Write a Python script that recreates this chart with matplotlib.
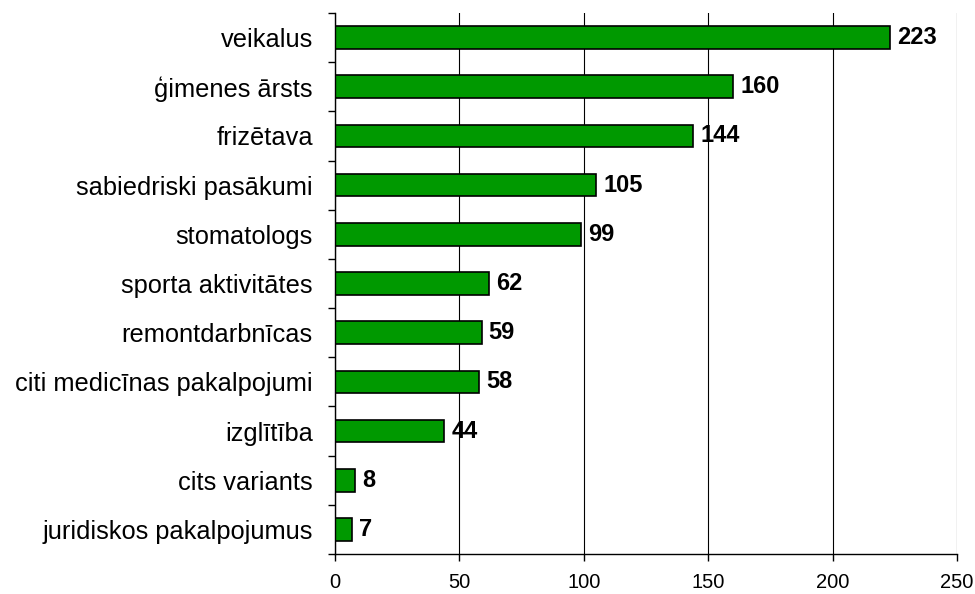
import matplotlib
matplotlib.use("Agg")
import matplotlib.pyplot as plt
from matplotlib.ticker import FixedLocator

categories = ["veikalus", "ģimenes ārsts", "frizētava", "sabiedriski pasākumi",
              "stomatologs", "sporta aktivitātes", "remontdarbnīcas",
              "citi medicīnas pakalpojumi", "izglītība", "cits variants",
              "juridiskos pakalpojumus"]
values = [223, 160, 144, 105, 99, 62, 59, 58, 44, 8, 7]
xticks = [0, 50, 100, 150, 200, 250]

plt.rcParams['font.family'] = ['Liberation Sans', 'DejaVu Sans']

fig = plt.figure(figsize=(9.75, 5.94), dpi=100)
ax = fig.add_axes([335/975, 1-554/594, (957-335)/975, (554-13)/594])

n = len(categories)
ypos = list(range(n - 1, -1, -1))
ax.barh(ypos, values, height=0.46, color="#009900", edgecolor="black",
        linewidth=1.2, zorder=3)
for y, v in zip(ypos, values):
    ax.annotate(str(v), (v, y), xytext=(5, 0), textcoords="offset points",
                va="center", ha="left", fontsize=17, fontweight="bold", zorder=4)

ax.set_xlim(0, 250)
ax.set_ylim(-0.5, n - 0.5)
ax.set_xticks(xticks)
ax.set_xticklabels([str(t) for t in xticks], fontsize=14.5)
ax.set_yticks(ypos)
ax.set_yticklabels(categories, fontsize=18.3)
ax.yaxis.set_minor_locator(FixedLocator([i - 0.5 for i in range(n + 1)]))
ax.tick_params(axis="y", which="major", length=0, pad=16)
ax.tick_params(axis="y", which="minor", length=5, width=1, direction="out")
ax.tick_params(axis="x", which="major", length=5, width=1, pad=8.5, direction="out")

ax.grid(axis="x", color="black", linewidth=0.8, zorder=0)
for s in ["top", "right"]:
    ax.spines[s].set_visible(False)
for s in ["left", "bottom"]:
    ax.spines[s].set_linewidth(1.0)
    ax.spines[s].set_zorder(5)

fig.savefig("out.png", dpi=100)
